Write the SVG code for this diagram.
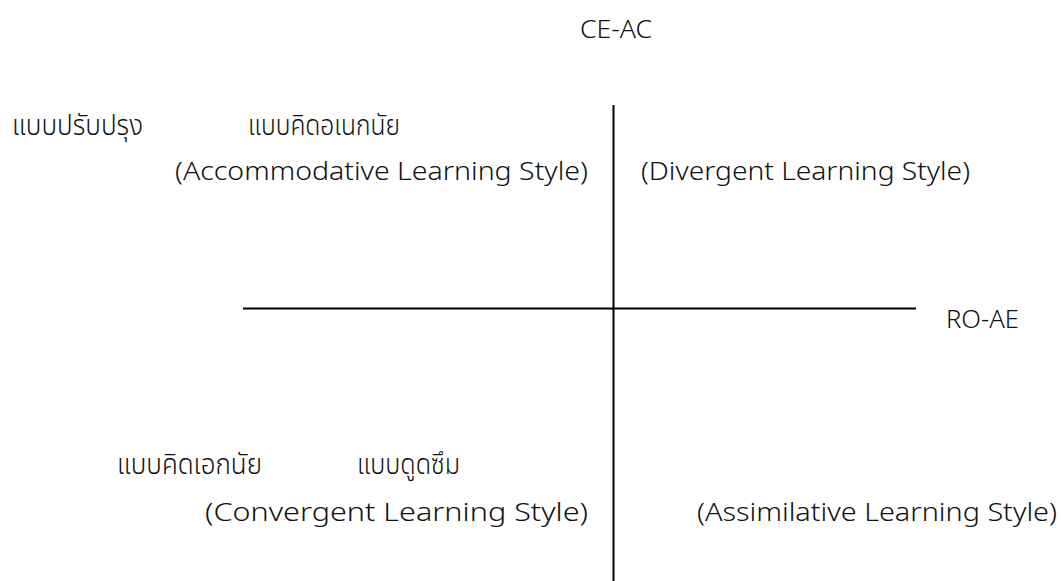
<svg xmlns="http://www.w3.org/2000/svg" width="1061" height="581" viewBox="0 0 1061 581">
<style>
text{font-family:"Noto Sans","Noto Sans Thai","Noto Sans CJK SC",sans-serif;font-size:26px;fill:#111;font-weight:300}
.th{font-size:28px}
.ax{stroke:#000;stroke-width:2;fill:none}
</style>
<rect width="1061" height="581" fill="#fff"/>
<g id="connectors">
<line class="ax" x1="613.5" y1="105" x2="613.5" y2="581"/>
<line class="ax" x1="243" y1="308.5" x2="916" y2="308.5"/>
</g>
<g id="axis-y"><text x="580" y="38" textLength="72" lengthAdjust="spacingAndGlyphs">CE-AC</text></g>
<g id="axis-x"><text x="946" y="328" textLength="73" lengthAdjust="spacingAndGlyphs">RO-AE</text></g>
<g id="q-accommodative">
<text class="th" x="12" y="135" textLength="131" lengthAdjust="spacingAndGlyphs">แบบปรับปรุง</text>
<text x="175" y="180" textLength="413" lengthAdjust="spacingAndGlyphs">(Accommodative Learning Style)</text>
</g>
<g id="q-divergent">
<text class="th" x="248" y="135" textLength="152" lengthAdjust="spacingAndGlyphs">แบบคิดอเนกนัย</text>
<text x="641" y="180" textLength="329" lengthAdjust="spacingAndGlyphs">(Divergent Learning Style)</text>
</g>
<g id="q-convergent">
<text class="th" x="117" y="474" textLength="145" lengthAdjust="spacingAndGlyphs">แบบคิดเอกนัย</text>
<text x="205" y="521" textLength="383" lengthAdjust="spacingAndGlyphs">(Convergent Learning Style)</text>
</g>
<g id="q-assimilative">
<text class="th" x="357" y="474" textLength="103" lengthAdjust="spacingAndGlyphs">แบบดูดซึม</text>
<text x="697" y="521" textLength="360" lengthAdjust="spacingAndGlyphs">(Assimilative Learning Style)</text>
</g>
</svg>
